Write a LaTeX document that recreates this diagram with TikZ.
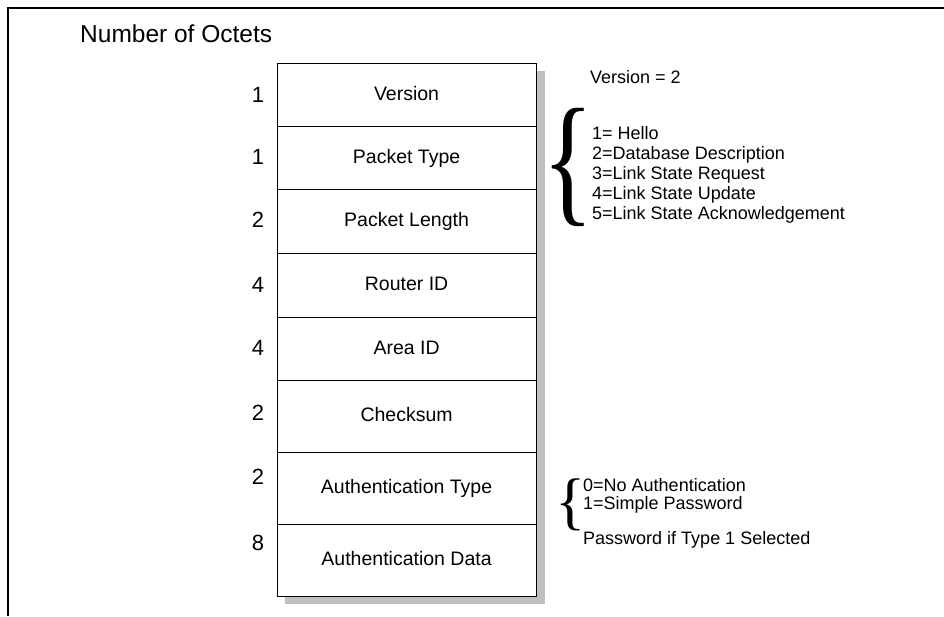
\documentclass[tikz,border=0pt]{standalone}
\usepackage{fontspec}
\setmainfont{Liberation Sans}
\newfontfamily\bracefont{Liberation Serif}
\begin{document}
\begin{tikzpicture}[
    x=1pt, y=-1pt,   % coordonnées en pixels, origine en haut à gauche
    % Réglages des champs de l'en-tête
    champ/.style={draw, line width=1.1pt, fill=white, minimum width=259pt,
        inner sep=0pt, text height=14pt, text depth=4pt,
        font=\fontsize{19.5}{22}\selectfont},
    octets/.style={inner sep=0pt, font=\fontsize{22}{24}\selectfont},
    note/.style={anchor=west, align=left, inner sep=0pt, font=\fontsize{18}{20}\selectfont},
    accolade/.style={inner sep=0pt}
]
\useasboundingbox (0,0) rectangle (944,616);
% Cadre
\draw[line width=1.6pt] (8,616) -- (8,8) -- (944,8);
\node[anchor=west, inner sep=0pt, font=\fontsize{24.5}{28}\selectfont] (titre) at (80,34) {Number of Octets};
% Ombre
\fill[black!25] (285,71) rectangle (545,604);
% Champs
\foreach \nom/\haut/\bas/\texte/\n/\ny in {
    version/63/126/Version/1/95,
    type/126/189/Packet Type/1/157,
    longueur/189/253/Packet Length/2/220,
    routeur/253/317/Router ID/4/285,
    zone/317/380/Area ID/4/348,
    somme/380/452/Checksum/2/413,
    authtype/452/524/Authentication Type/2/477,
    authdata/524/596/Authentication Data/8/543}
{
    \node[champ, anchor=north west, minimum height={(\bas-\haut)*1pt}] (\nom) at (276.5,\haut) {\texte};
    \node[octets] (n-\nom) at (258,\ny) {\n};
}
% Notes
\node[note] (noteversion) at (590,77) {Version = 2};
\node[accolade, xscale=0.75, font=\bracefont\fontsize{143}{143}\selectfont] (acc1) at (568,167.5) {\makebox[0pt]{\{}};
\node[note] (notetype) at (592,175) {1= Hello\\2=Database Description\\3=Link State Request\\4=Link State Update\\5=Link State Acknowledgement};
\node[accolade, font=\bracefont\fontsize{63}{63}\selectfont] (acc2) at (571,504.5) {\makebox[0pt]{\{}};
\node[note, font=\fontsize{18}{18}\selectfont] (noteauth) at (583,496) {0=No Authentication\\1=Simple Password};
\node[note] (notedata) at (583,540) {Password if Type 1 Selected};
\end{tikzpicture}
\end{document}
